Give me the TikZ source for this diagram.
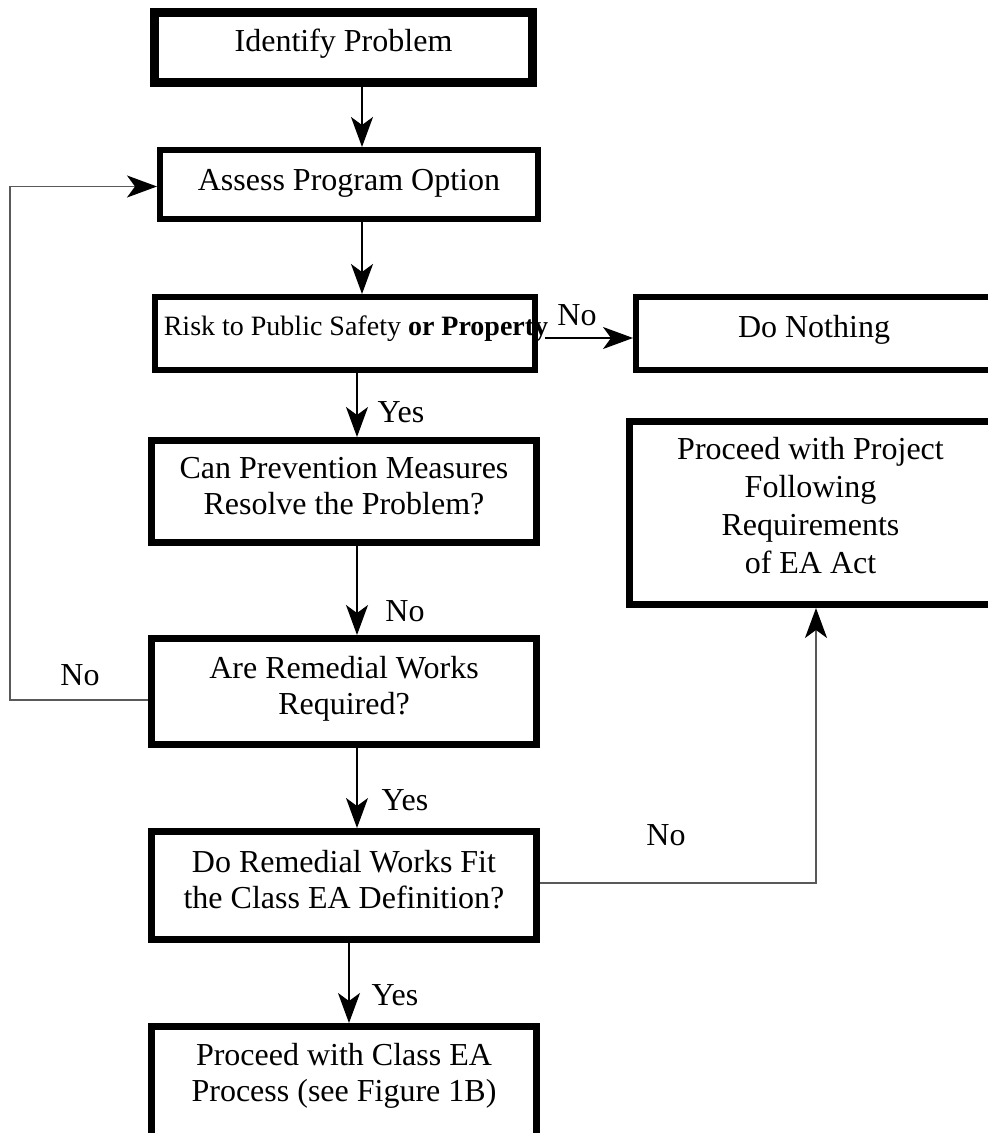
\documentclass[tikz,border=0pt]{standalone}
\usepackage{fontspec}
\setmainfont{Liberation Serif}
\usetikzlibrary{arrows.meta,calc}
\newcommand{\mybt}[2][1pt]{\raisebox{#1}[\height][\depth]{\begin{tabular}{@{}c@{}}#2\end{tabular}}}
\begin{document}
\begin{tikzpicture}[x=0.5pt,y=-0.5pt,
  box/.style={draw=black, line width=3.5pt, rectangle, inner sep=0pt,
    font=\fontsize{16}{18}\selectfont},
  lbl/.style={font=\fontsize{16}{18}\selectfont, inner sep=0pt},
  arr/.style={draw=black, line width=0.8pt, -{Stealth[length=15pt,width=11pt,inset=4pt]}},
  arrg/.style={draw=black!65, line width=0.8pt, -{Stealth[length=15pt,width=11pt,inset=4pt,color=black]}}
]
\useasboundingbox (0,0) rectangle (987,1133);

% boxes
\node[box, line width=4.5pt, minimum width=189pt, minimum height=35pt] (idp) at (343.5,47.5)
  {\mybt[1.5pt]{Identify Problem}};
\node[box, line width=3pt, minimum width=189pt, minimum height=34.5pt] (ass) at (349,184.5)
  {\mybt[0.5pt]{Assess Program Option}};
\node[box, line width=3pt, minimum width=190pt, minimum height=36.5pt] (risk) at (345,333.5)
  {\makebox[0pt]{\hspace*{11pt}\fontsize{14}{16}\selectfont\mybt[2.3pt]{Risk to Public Safety \textbf{or Property}}}};
\node[box, line width=3pt, minimum width=178pt, minimum height=36.5pt] (dn) at (814,333.5)
  {\mybt[1.5pt]{Do Nothing}};
\node[box, minimum width=192.5pt, minimum height=51pt] (can) at (344,491.5)
  {\mybt[1.3pt]{Can Prevention Measures\\Resolve the Problem?}};
\node[box, font=\fontsize{16}{19}\selectfont, minimum width=181pt, minimum height=91.5pt] (pp) at (810.5,513)
  {\mybt[2.1pt]{Proceed with Project\\Following\\Requirements\\of EA Act}};
\node[box, minimum width=192.5pt, minimum height=53pt] (are) at (344,691.5)
  {\mybt[1pt]{Are Remedial Works\\Required?}};
\node[box, minimum width=192.5pt, minimum height=54pt] (dor) at (344,885.5)
  {\mybt[1pt]{Do Remedial Works Fit\\the Class EA Definition?}};
\node[box, minimum width=192.5pt, minimum height=55pt] (cls) at (344,1081.5)
  {\mybt[2.8pt]{Proceed with Class EA\\Process (see Figure 1B)}};

% helper coordinates
\coordinate (x1) at (362,0);
\coordinate (x2) at (357,0);
\coordinate (x3) at (349,0);
\coordinate (xl) at (10,0);
\coordinate (xr) at (816,0);
\coordinate (rn) at ([shift={(3.5pt,-2.25pt)}]risk.east);
\coordinate (fbs) at ([yshift=-4.25pt]are.west);
\coordinate (drs) at ([yshift=1.25pt]dor.east);

% connectors
\draw[arr] (idp.south -| x1) -- (ass.north -| x1);
\draw[arr] (ass.south -| x1) -- (risk.north -| x1);
\draw[arr] (risk.south -| x2) -- (can.north -| x2);
\draw[arr] (can.south -| x2) -- (are.north -| x2);
\draw[arr] (are.south -| x2) -- (dor.north -| x2);
\draw[arr] (dor.south -| x3) -- (cls.north -| x3);
\draw[arr] (rn) -- (rn -| dn.west);
\draw[arrg] (fbs) -- (fbs -| xl) |- ([yshift=-1pt]ass.west);
\draw[arrg] (drs) -| (xr |- pp.south);

% labels
\node[lbl] (l1) at (577,315) {No};
\node[lbl] (l2) at (401,412) {Yes};
\node[lbl] (l3) at (405,611) {No};
\node[lbl] (l4) at (80,675) {No};
\node[lbl] (l5) at (405,800) {Yes};
\node[lbl] (l6) at (666,835) {No};
\node[lbl] (l7) at (395,995) {Yes};
\end{tikzpicture}
\end{document}
